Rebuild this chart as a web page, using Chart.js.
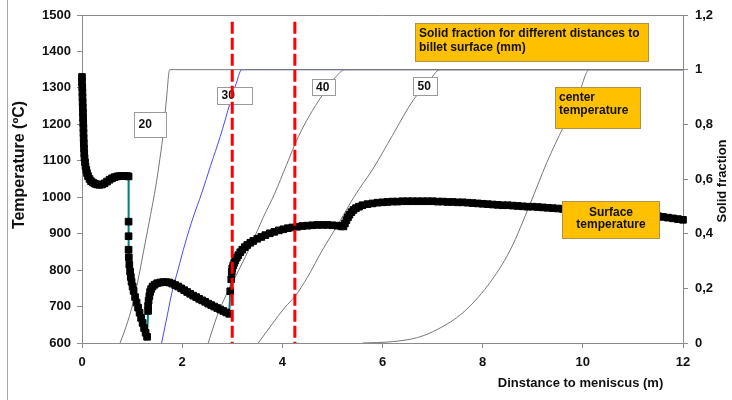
<!DOCTYPE html>
<html>
<head>
<meta charset="utf-8">
<script src="https://cdn.jsdelivr.net/npm/chart.js@4/dist/chart.umd.min.js"></script>
<style>
html,body{margin:0;padding:0;background:#fff;}
#wrap{position:relative;width:732px;height:400px;}
#edge{position:absolute;left:7px;top:0;width:1px;height:400px;background:#a6a6a6;}
canvas{display:block;}
</style>
</head>
<body>
<div id="wrap"><canvas id="c" width="732" height="400"></canvas><div id="edge"></div></div>
<script>
// Surface temperature along the strand: [distance to meniscus (m), temperature (°C)]
const surfaceTemp = [
  [0,1330],[0,1316],[0.005,1302],[0.008,1288],[0.01,1274],[0.013,1260],[0.016,1246],[0.019,1232],
  [0.022,1218],[0.025,1204],[0.028,1190],[0.03,1176],[0.033,1162],[0.036,1148],[0.04,1134],[0.045,1120],
  [0.05,1108],[0.06,1096],[0.07,1085],[0.085,1075],[0.1,1066],[0.12,1058],[0.15,1050],[0.18,1044],
  [0.22,1040],[0.26,1037],[0.3,1035],[0.35,1034],[0.4,1035],[0.45,1038],[0.5,1043],[0.55,1048],
  [0.6,1052],[0.65,1055],[0.7,1057],[0.75,1058],[0.8,1058],[0.85,1058],[0.9,1058],[0.93,1057],
  [0.93,933],[0.93,893],[0.93,856],[0.935,835],[0.945,815],[0.96,796],[0.975,781],[0.99,768],
  [1.01,755],[1.03,743],[1.06,726],[1.09,711],[1.12,697],[1.15,683],[1.18,669],[1.21,655],
  [1.24,641],[1.27,628],[1.3,617],
  [1.32,688],[1.32,702],[1.33,716],[1.345,729],[1.36,740],[1.38,748],[1.41,755],[1.45,760],
  [1.5,764],[1.56,766],[1.62,767],[1.68,767],[1.74,766],[1.8,763],[1.86,759],[1.92,755],
  [1.98,750],[2.04,745],[2.1,740],[2.16,735],[2.22,730],[2.28,726],[2.34,721],[2.4,717],
  [2.46,713],[2.52,708],[2.58,704],[2.64,700],[2.7,696],[2.76,692],[2.82,688],[2.88,684],[2.94,680],
  [2.96,742],[2.98,775],[2.99,795],[3.0,805],[3.02,813],[3.04,820],[3.06,827],[3.09,834],
  [3.12,841],[3.16,849],[3.2,856],[3.25,863],[3.3,869],[3.36,875],[3.42,880],[3.5,886],
  [3.58,891],[3.66,896],[3.75,901],[3.84,905],[3.93,909],[4.02,912],[4.11,915],[4.2,917],
  [4.3,919],[4.4,921],[4.5,922],[4.6,923],[4.7,924],[4.8,924],[4.9,924],[5.0,923],
  [5.1,922],[5.18,920],[5.22,920],
  [5.25,928],[5.28,937],[5.31,945],[5.34,952],[5.38,959],[5.42,965],[5.47,970],[5.53,974],
  [5.6,978],[5.7,981],[5.8,983],[5.9,985],[6.0,986],[6.1,987],[6.2,988],[6.3,988],
  [6.4,989],[6.5,989],[6.6,989],[6.7,989],[6.8,989],[6.9,989],[7.0,989],[7.1,988],
  [7.2,988],[7.3,987],[7.4,987],[7.5,986],[7.6,986],[7.7,985],[7.8,984],[7.9,983],
  [8.0,982],[8.1,981],[8.2,980],[8.3,979],[8.4,978],[8.5,978],[8.6,977],[8.7,976],
  [8.8,975],[8.9,974],[9.0,974],[9.1,973],[9.2,972],[9.3,971],[9.4,970],[9.5,969],
  [9.6,968],[9.7,967],[9.8,966],[9.9,965],[10.0,964],[10.1,963],[10.2,962],[10.3,961],
  [10.4,960],[10.5,959],[10.6,958],[10.7,957],[10.8,956],[10.9,955],[11.0,954],[11.1,953],
  [11.2,952],[11.3,951],[11.4,950],[11.5,948],[11.6,946],[11.7,944],[11.8,942],[11.9,940],[12.0,938]
];

// Solid fraction at given distances below the billet surface: [distance (m), fraction]
const solid20 = [[0.76,0],[0.88,0.06],[1.01,0.14],[1.14,0.25],[1.26,0.365],[1.37,0.47],[1.47,0.57],
  [1.56,0.68],[1.63,0.78],[1.69,0.9],[1.75,1],[12,1]];
const solid30 = [[1.59,0],[1.68,0.08],[1.79,0.18],[1.92,0.27],[2.06,0.365],[2.22,0.46],[2.39,0.548],
  [2.57,0.65],[2.76,0.755],[2.96,0.88],[3.08,0.95],[3.19,1],[12,1]];
const solid40 = [[2.52,0],[2.7,0.1],[2.89,0.18],[3.14,0.27],[3.39,0.365],[3.62,0.46],[3.85,0.548],
  [4.08,0.65],[4.32,0.755],[4.6,0.85],[4.85,0.92],[5.05,0.97],[5.25,1],[12,1]];
const solid50 = [[3.52,0],[3.8,0.07],[4.05,0.13],[4.25,0.17],[4.5,0.24],[4.8,0.34],[5.1,0.43],
  [5.45,0.54],[5.82,0.64],[6.2,0.76],[6.62,0.89],[6.9,0.95],[7.15,1],[12,1]];
const solidCenter = [[5.6,0],[6.2,0.005],[6.7,0.02],[7.1,0.05],[7.6,0.11],[8.1,0.21],[8.55,0.34],
  [8.95,0.51],[9.28,0.66],[9.61,0.79],[9.9,0.9],[10.13,1],[12,1]];

// Positions (m) of the two marked strand sections, and the span of their markers on the fraction axis
const sectionPositions = [3.0, 4.25];
const sectionSpan = [1.175, 0];

// Axis ranges and steps
const distanceTicks = { min: 0, max: 12, step: 2 };
const tempTicks = { min: 600, max: 1500, step: 100 };
const fractionTicks = { min: 0, max: 1.2, step: 0.2 };

const FONT = '"Liberation Sans", Arial, sans-serif';
const pts = arr => arr.map(p => ({ x: p[0], y: p[1] }));

function sfLine(data, color) {
  return {
    data: pts(data), yAxisID: 'y2', borderColor: color, borderWidth: 1,
    pointRadius: 0, cubicInterpolationMode: 'monotone', fill: false, order: 2
  };
}

const datasets = [];
sectionPositions.forEach(pos => {
  datasets.push({
    data: sectionSpan.map(v => ({ x: pos, y: v })), yAxisID: 'y2', isSection: true,
    borderColor: '#ff0000', borderWidth: 3, borderDash: [12, 4], pointRadius: 0, order: 0
  });
});
datasets.push({
  data: pts(surfaceTemp), yAxisID: 'y', borderColor: '#008080', borderWidth: 2,
  pointStyle: 'rect', pointRadius: 4.7, pointBackgroundColor: '#000', pointBorderColor: '#000',
  pointBorderWidth: 1, clip: 10, order: 1
});
datasets.push(sfLine(solidCenter, '#777777'));
datasets.push(sfLine(solid50, '#777777'));
datasets.push(sfLine(solid40, '#777777'));
datasets.push(sfLine(solid20, '#777777'));
datasets.push(sfLine(solid30, '#4848ff'));

// Text boxes anchored at (distance, fraction) of their top-left corner
const notes = [
  { lines: ['20'], x: 1.04, y: 0.846, w: 32, h: 25, fill: '#ffffff', stroke: '#9a9a9a', pad: 4 },
  { lines: ['30'], x: 2.69, y: 0.938, w: 35, h: 17, fill: '#ffffff', stroke: '#9a9a9a', pad: 4 },
  { lines: ['40'], x: 4.587, y: 0.966, w: 23, h: 16, fill: '#ffffff', stroke: '#9a9a9a', pad: 3.5 },
  { lines: ['50'], x: 6.615, y: 0.972, w: 24, h: 18, fill: '#ffffff', stroke: '#9a9a9a', pad: 4 },
  { lines: ['Solid fraction for different distances to', 'billet surface (mm)'], x: 6.65, y: 1.172,
    w: 233, h: 38, fill: '#ffc000', stroke: '#b0904a', pad: 3.5, lineTop: 10, lineGap: 14 },
  { lines: ['center', 'temperature'], x: 9.445, y: 0.938, w: 85, h: 41,
    fill: '#ffc000', stroke: '#b0904a', pad: 3.5, lineTop: 10, lineGap: 13.5 },
  { lines: ['Surface', 'temperature'], x: 9.58, y: 0.521, w: 97, h: 37,
    fill: '#ffc000', stroke: '#b0904a', center: true, lineTop: 11, lineGap: 12.6 }
];

function drawNotes(chart) {
  const ctx = chart.ctx, xs = chart.scales.x, ys = chart.scales.y2;
  ctx.save();
  ctx.font = 'bold 12px ' + FONT;
  ctx.textBaseline = 'middle';
  notes.forEach(n => {
    const left = Math.round(xs.getPixelForValue(n.x)) + 0.5;
    const top = Math.round(ys.getPixelForValue(n.y)) + 0.5;
    ctx.fillStyle = n.fill;
    ctx.fillRect(left, top, n.w, n.h);
    ctx.strokeStyle = n.stroke;
    ctx.lineWidth = 1;
    ctx.strokeRect(left, top, n.w, n.h);
    ctx.fillStyle = '#111';
    n.lines.forEach((t, i) => {
      const ty = n.lines.length === 1 ? top + n.h / 2 : top + n.lineTop + i * n.lineGap;
      if (n.center) { ctx.textAlign = 'center'; ctx.fillText(t, left + n.w / 2, ty); }
      else { ctx.textAlign = 'left'; ctx.fillText(t, left + n.pad, ty); }
    });
  });
  ctx.restore();
}

let notesDone = false;
const decorations = {
  id: 'decorations',
  beforeDatasetsDraw(chart) {
    notesDone = false;
    const { ctx, chartArea: a } = chart;
    ctx.save();
    ctx.strokeStyle = '#8a8a8a';
    ctx.lineWidth = 1;
    ctx.beginPath();
    ctx.moveTo(a.left, Math.round(a.top) + 0.5);
    ctx.lineTo(a.right, Math.round(a.top) + 0.5);
    ctx.stroke();
    ctx.restore();
  },
  beforeDatasetDraw(chart, args) {
    if (!notesDone && chart.data.datasets[args.index].isSection) {
      drawNotes(chart);
      notesDone = true;
    }
  },
  afterDraw(chart) {
    const ctx = chart.ctx;
    ctx.save();
    ctx.fillStyle = '#111';
    ctx.textBaseline = 'middle';
    ctx.textAlign = 'center';
    ctx.font = 'bold 16px ' + FONT;
    ctx.translate(20, 165);
    ctx.rotate(-Math.PI / 2);
    ctx.fillText('Temperature (ºC)', 0, 0);
    ctx.restore();

    ctx.save();
    ctx.fillStyle = '#111';
    ctx.textBaseline = 'middle';
    ctx.textAlign = 'center';
    ctx.font = 'bold 13px ' + FONT;
    ctx.translate(722, 181);
    ctx.rotate(-Math.PI / 2);
    ctx.fillText('Solid fraction', 0, 0);
    ctx.restore();

    ctx.save();
    ctx.fillStyle = '#111';
    ctx.textBaseline = 'middle';
    ctx.textAlign = 'center';
    ctx.font = 'bold 13px ' + FONT;
    ctx.fillText('Dinstance to meniscus (m)', 580.5, 383);
    ctx.restore();
  }
};

const axisGrid = { display: true, drawOnChartArea: false, drawTicks: true, tickLength: 5, color: '#8a8a8a', lineWidth: 1 };
const axisBorder = { display: true, color: '#8a8a8a', width: 1 };
const tickFont = { family: FONT, size: 13, weight: 'bold' };

new Chart(document.getElementById('c'), {
  type: 'line',
  data: { datasets },
  plugins: [decorations],
  options: {
    responsive: false,
    animation: false,
    devicePixelRatio: 1,
    layout: { padding: { top: 15, left: 0, right: 0, bottom: 0 } },
    plugins: { legend: { display: false }, tooltip: { enabled: false } },
    scales: {
      x: {
        type: 'linear', min: distanceTicks.min, max: distanceTicks.max,
        ticks: { stepSize: distanceTicks.step, font: tickFont, color: '#111', padding: 7, maxRotation: 0,
          callback: v => String(v) },
        grid: axisGrid, border: axisBorder,
        afterFit: s => { s.height = 57; }
      },
      y: {
        type: 'linear', position: 'left', min: tempTicks.min, max: tempTicks.max,
        ticks: { stepSize: tempTicks.step, font: tickFont, color: '#111', padding: 6,
          callback: v => String(v) },
        grid: axisGrid, border: axisBorder,
        afterFit: s => { s.width = 82; }
      },
      y2: {
        type: 'linear', position: 'right', min: fractionTicks.min, max: fractionTicks.max,
        ticks: {
          stepSize: fractionTicks.step, font: tickFont, color: '#111', padding: 7,
          callback: v => String(Math.round(v * 10) / 10).replace('.', ',')
        },
        grid: axisGrid, border: axisBorder,
        afterFit: s => { s.width = 49; }
      }
    }
  }
});
</script>
</body>
</html>
